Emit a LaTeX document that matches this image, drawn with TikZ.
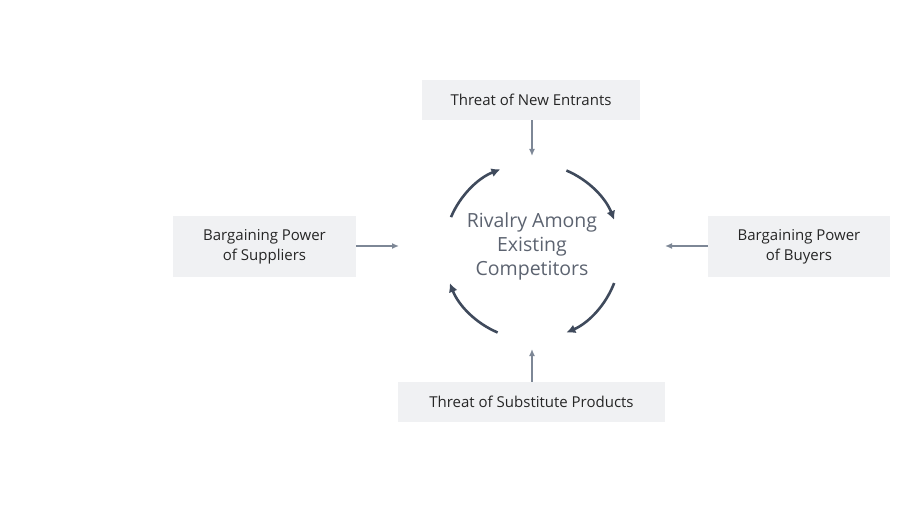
\documentclass[tikz,border=0pt]{standalone}
\usepackage{fontspec}
\setmainfont{Open Sans}
\usetikzlibrary{arrows.meta}
\definecolor{boxfill}{HTML}{F0F1F3}
\definecolor{boxtext}{HTML}{262626}
\definecolor{thinarrow}{HTML}{7D8796}
\definecolor{ringcol}{HTML}{3F4A5C}
\definecolor{centertext}{HTML}{5C6370}
\begin{document}
\begin{tikzpicture}[x=1pt,y=-1pt,
  forcebox/.style={fill=boxfill, draw=none, text=boxtext, font=\fontsize{15}{20}\selectfont, align=center, inner sep=0pt},
  thin arrow/.style={draw=thinarrow, line width=1.5pt, -{Latex[length=7pt,width=6pt]}},
  ring arrow/.style={draw=ringcol, line width=2.6pt, -{Latex[length=9pt,width=9pt]}}]
\useasboundingbox (0,0) rectangle (900,505);
\node[forcebox, minimum width=218pt, minimum height=40pt] (top) at (531,100) {Threat of New Entrants};
\node[forcebox, minimum width=183pt, minimum height=61pt] (left) at (264.5,246.5) {Bargaining Power\\of Suppliers};
\node[forcebox, minimum width=182pt, minimum height=61pt] (right) at (799,246.5) {Bargaining Power\\of Buyers};
\node[forcebox, minimum width=267pt, minimum height=40pt] (bottom) at (531.5,402) {Threat of Substitute Products};
\node[text=centertext, font=\fontsize{19.5}{24}\selectfont, align=center] (center) at (532,246) {Rivalry Among\\Existing\\Competitors};
\coordinate (topend) at (532,156);
\coordinate (leftend) at (399,246);
\coordinate (rightend) at (665,246);
\coordinate (bottomend) at (532,349);
\draw[thin arrow] (top.south -| topend) -- (topend);
\draw[thin arrow] (left.east |- leftend) -- (leftend);
\draw[thin arrow] (right.west |- rightend) -- (rightend);
\draw[thin arrow] (bottom.north -| bottomend) -- (bottomend);
\coordinate (c) at (532,251.5);
\draw[ring arrow] ([shift={(157:88pt)}]c) arc[start angle=157, end angle=111, radius=88pt];
\draw[ring arrow] ([shift={(67:88pt)}]c) arc[start angle=67, end angle=21, radius=88pt];
\draw[ring arrow] ([shift={(-21:88pt)}]c) arc[start angle=-21, end angle=-67, radius=88pt];
\draw[ring arrow] ([shift={(-113:88pt)}]c) arc[start angle=-113, end angle=-159, radius=88pt];
\end{tikzpicture}
\end{document}
